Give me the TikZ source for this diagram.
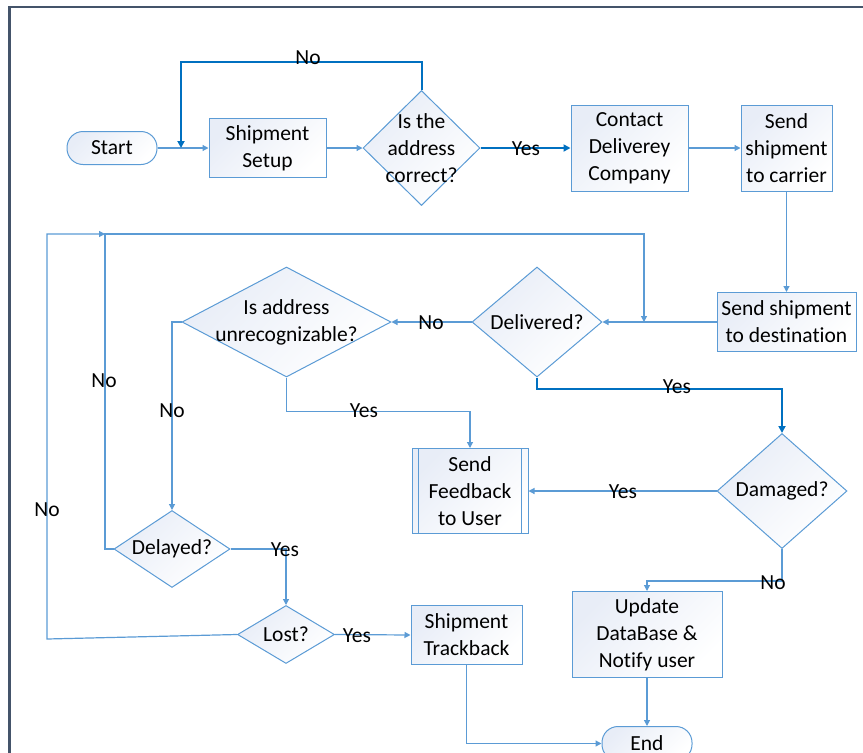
\documentclass[tikz,border=0pt]{standalone}
\usepackage{fontspec}
\setmainfont{Carlito}[Ligatures=NoCommon]
\usetikzlibrary{shapes.geometric,arrows.meta}
\definecolor{bord}{HTML}{5B9BD5}
\definecolor{thk}{HTML}{0070C0}
\definecolor{frm}{HTML}{44546A}
\definecolor{fillc}{HTML}{E8EDF7}
\tikzset{
  every node/.style={font=\fontsize{21.5pt}{27pt}\selectfont, text=black},
  shadefill/.style={top color=fillc, bottom color=white, shading angle=45},
  procbox/.style={draw=bord, line width=1pt, shadefill, rectangle, inner sep=0pt, align=center},
  termbox/.style={procbox, rounded corners=16pt},
  decbox/.style={draw=bord, line width=1pt, shadefill, diamond, inner sep=0pt},
  conn/.style={draw=bord, line width=1.2pt, -{Triangle[length=6pt,width=6pt]}},
  thkconn/.style={draw=thk, line width=2pt, -{Triangle[length=7pt,width=7pt]}},
  lbl/.style={inner sep=0pt}
}
\begin{document}
\begin{tikzpicture}[x=1pt,y=-1pt]
\useasboundingbox (0,0) rectangle (863,753);
\draw[frm, line width=2.2pt] (9.5,780) -- (9.5,7) -- (880,7);

% nodes
\node[termbox, minimum width=90pt, minimum height=33pt] (start) at (112,148) {Start};
\node[procbox, minimum width=117pt, minimum height=59pt] (setup) at (267.5,148) {Shipment\\Setup};
\node[decbox, minimum width=117pt, minimum height=115pt,
      label={[align=center, lbl]center:Is the\\address\\correct?}] (q1) at (421.5,148) {};
\node[procbox, minimum width=117pt, minimum height=86pt] (contact) at (629.5,148) {Contact\\Deliverey\\Company};
\node[procbox, minimum width=91pt, minimum height=86pt] (carrier) at (786.5,148) {Send\\shipment\\to carrier};
\node[procbox, minimum width=139pt, minimum height=59pt] (dest) at (786.5,322) {Send shipment\\to destination};
\node[decbox, minimum width=130pt, minimum height=110pt,
      label={[lbl]center:Delivered?}] (deliv) at (537,322) {};
\node[decbox, minimum width=209pt, minimum height=110pt,
      label={[align=center, lbl]center:Is address\\unrecognizable?}] (unrec) at (286.5,322) {};
\node[procbox, minimum width=116pt, minimum height=85pt] (fb) at (470,491) {Send\\Feedback\\to User};
\draw[bord, line width=1pt] ([xshift=7pt]fb.north west) -- ([xshift=7pt]fb.south west);
\draw[bord, line width=1pt] ([xshift=-7pt]fb.north east) -- ([xshift=-7pt]fb.south east);
\node[decbox, minimum width=130pt, minimum height=115pt,
      label={[lbl]center:Damaged?}] (dmg) at (782,491) {};
\node[decbox, minimum width=116pt, minimum height=77pt,
      label={[lbl]center:Delayed?}] (delay) at (172,549) {};
\node[decbox, minimum width=97pt, minimum height=58pt,
      label={[lbl]center:Lost?}] (lost) at (286,634.5) {};
\node[procbox, minimum width=111pt, minimum height=59pt] (track) at (466.5,635) {Shipment\\Trackback};
\node[procbox, minimum width=150pt, minimum height=86pt] (upd) at (647,634.5) {Update\\DataBase \&\\Notify user};
\node[termbox, minimum width=90pt, minimum height=34pt] (end) at (647,743.5) {End};

% junction coordinates
\coordinate (j1) at (181,148);
\coordinate (j2) at (644,322);
\coordinate (j3) at (105,234);
\coordinate (c1) at (421.5,62);
\coordinate (c2) at (47,639);

% connectors
\draw[conn] (start.east) -- (setup.west);
\draw[thkconn] (q1.north) -- (c1) -| (j1);
\draw[conn] (setup.east) -- (q1.west);
\draw[thkconn] (q1.east) -- (contact.west);
\draw[conn] (contact.east) -- (carrier.west);
\draw[conn] (carrier.south) -- (dest.north);
\draw[conn] (dest.west) -- (deliv.east);
\draw[conn] (delay.west) -| (j3) -| (j2);
\draw[conn] (lost.west) -- (c2) |- (j3);
\draw[conn] (deliv.west) -- (unrec.east);
\draw[thkconn] (deliv.south) -- ++(0,11) -| (dmg.north);
\draw[conn] (unrec.south) -- ++(0,34) -| (fb.north);
\draw[conn] (unrec.west) -| (delay.north);
\draw[conn] (dmg.west) -- (fb.east);
\draw[conn] (dmg.south) -- ++(0,32) -| (upd.north);
\draw[conn] (delay.east) -| (lost.north);
\draw[conn] (lost.east) -- (track.west);
\draw[conn] (track.south) |- (end.west);
\draw[conn] (upd.south) -- (end.north);

% labels
\node[lbl] (n1) at (308,57.5) {No};
\node[lbl] (y1) at (526,148.5) {Yes};
\node[lbl] (n2) at (104,380.5) {No};
\node[lbl] (n3) at (47,509.5) {No};
\node[lbl] (n4) at (431,322.5) {No};
\node[lbl] (y2) at (677,386.5) {Yes};
\node[lbl] (y3) at (364,410.5) {Yes};
\node[lbl] (n5) at (172,410.5) {No};
\node[lbl] (y4) at (623,491.5) {Yes};
\node[lbl] (n6) at (773,582.5) {No};
\node[lbl] (y5) at (285,549.5) {Yes};
\node[lbl] (y6) at (357,635.5) {Yes};
\end{tikzpicture}
\end{document}
